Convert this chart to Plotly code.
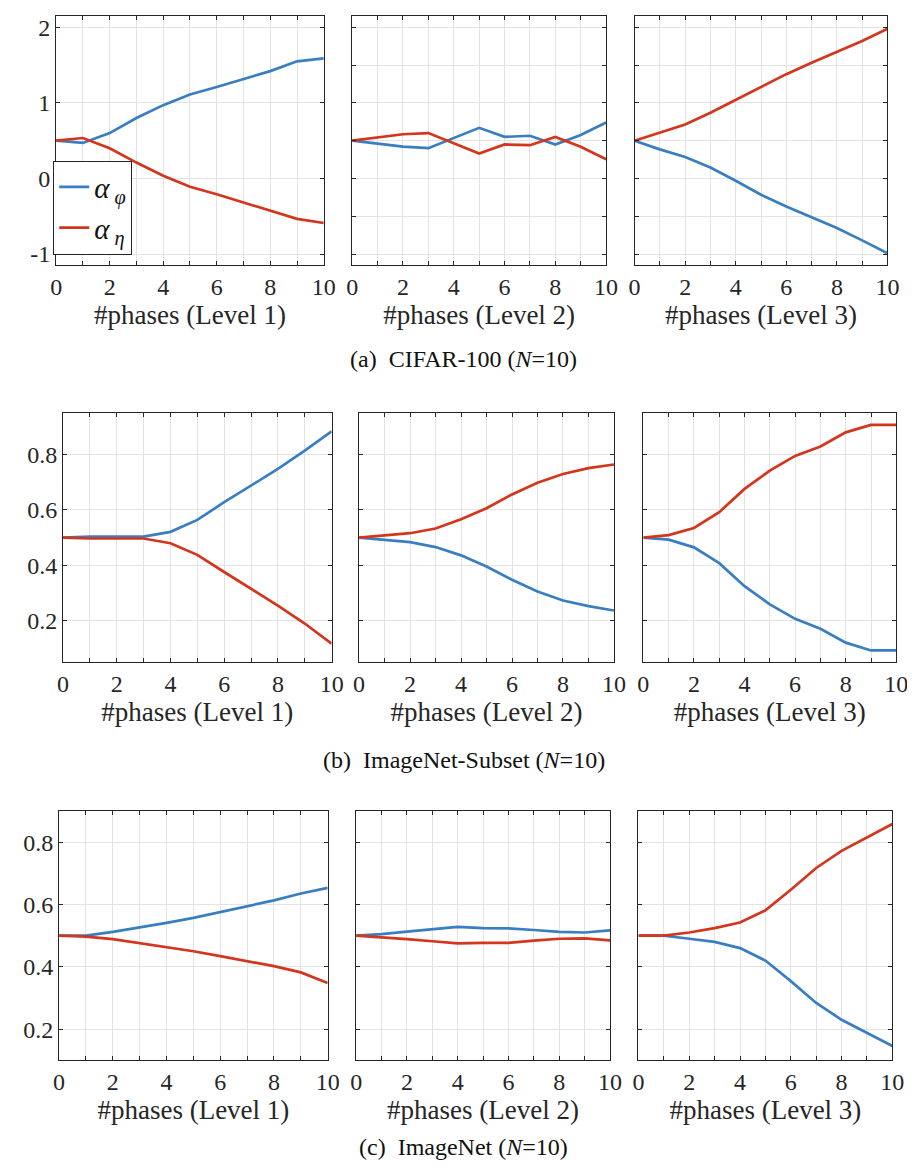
import plotly.graph_objects as go

phases = list(range(11))

# Row (a) CIFAR-100
a1_phi = [0.50, 0.47, 0.60, 0.80, 0.97, 1.11, 1.21, 1.32, 1.42, 1.55, 1.59]
a1_eta = [0.50, 0.535, 0.40, 0.21, 0.035, -0.11, -0.21, -0.32, -0.42, -0.535, -0.59]
a2_phi = [0.50, 0.455, 0.42, 0.40, 0.54, 0.67, 0.55, 0.565, 0.45, 0.575, 0.74]
a2_eta = [0.50, 0.545, 0.585, 0.60, 0.46, 0.33, 0.45, 0.44, 0.55, 0.42, 0.255]
a3_phi = [0.50, 0.385, 0.285, 0.145, -0.03, -0.215, -0.37, -0.51, -0.655, -0.82, -0.99]
a3_eta = [0.50, 0.605, 0.715, 0.87, 1.04, 1.22, 1.38, 1.53, 1.67, 1.82, 1.98]

# Row (b) ImageNet-Subset
b1_phi = [0.50, 0.504, 0.504, 0.504, 0.521, 0.564, 0.628, 0.688, 0.748, 0.814, 0.884]
b1_eta = [0.50, 0.497, 0.497, 0.497, 0.48, 0.438, 0.376, 0.315, 0.255, 0.19, 0.117]
b2_phi = [0.50, 0.493, 0.484, 0.466, 0.436, 0.396, 0.348, 0.306, 0.273, 0.253, 0.237]
b2_eta = [0.50, 0.507, 0.516, 0.533, 0.566, 0.606, 0.656, 0.698, 0.73, 0.751, 0.764]
b3_phi = [0.50, 0.493, 0.465, 0.408, 0.325, 0.259, 0.207, 0.171, 0.121, 0.093, 0.093]
b3_eta = [0.50, 0.509, 0.535, 0.592, 0.676, 0.742, 0.795, 0.829, 0.88, 0.907, 0.907]

# Row (c) ImageNet
c1_phi = [0.50, 0.50, 0.512, 0.526, 0.541, 0.557, 0.575, 0.593, 0.613, 0.635, 0.653]
c1_eta = [0.50, 0.497, 0.489, 0.476, 0.464, 0.45, 0.434, 0.419, 0.402, 0.382, 0.348]
c2_phi = [0.50, 0.505, 0.513, 0.52, 0.528, 0.524, 0.523, 0.518, 0.512, 0.51, 0.517]
c2_eta = [0.50, 0.495, 0.489, 0.482, 0.475, 0.477, 0.477, 0.484, 0.49, 0.491, 0.485]
c3_phi = [0.50, 0.50, 0.49, 0.48, 0.46, 0.42, 0.354, 0.284, 0.23, 0.188, 0.146]
c3_eta = [0.50, 0.50, 0.51, 0.524, 0.542, 0.581, 0.647, 0.717, 0.772, 0.815, 0.858]

x_titles = ["#phases (Level 1)", "#phases (Level 2)", "#phases (Level 3)"]
captions = ["(a)  CIFAR-100 (<i>N</i>=10)",
            "(b)  ImageNet-Subset (<i>N</i>=10)",
            "(c)  ImageNet (<i>N</i>=10)"]
x_tickvals = list(range(11))
x_ticktext = [str(v) if v % 2 == 0 else "" for v in x_tickvals]
a_ytickvals = [-1, 0, 1, 2]
a_yticktext = ["-1", "0", "1", "2"]
a_ytickvals_fine = [-1, -0.5, 0, 0.5, 1, 1.5, 2]
bc_ytickvals = [0.2, 0.4, 0.6, 0.8]

rows = [
    [(a1_phi, a1_eta), (a2_phi, a2_eta), (a3_phi, a3_eta)],
    [(b1_phi, b1_eta), (b2_phi, b2_eta), (b3_phi, b3_eta)],
    [(c1_phi, c1_eta), (c2_phi, c2_eta), (c3_phi, c3_eta)],
]

W, H = 915, 1176
row_px = [(7, 257), (405, 655), (804, 1054)]
col_px = [
    [(43, 316), (345, 604), (633, 891)],
    [(50, 324), (352, 612), (642, 900)],
    [(46, 320), (349, 608), (637, 896)],
]
y_ranges = [[-1.15, 2.15], [0.05, 0.95], [0.1, 0.9]]
caption_px = [351, 753, 1141]

BLUE = "#3A7EC2"
RED = "#D3361C"
AXC = "#262626"
TXT = "#262626"
GRID = "#E3E3E3"
FONT = "Liberation Serif"

fig = go.Figure()

idx = 0
for r in range(3):
    for c in range(3):
        idx += 1
        xa = "x" if idx == 1 else f"x{idx}"
        ya = "y" if idx == 1 else f"y{idx}"
        phi, eta = rows[r][c]
        show = (r == 0 and c == 0)
        fig.add_trace(go.Scatter(x=phases, y=phi, mode="lines",
                                 line=dict(color=BLUE, width=2.7),
                                 name="<i>α</i><sub> <i>φ</i></sub>", showlegend=show,
                                 xaxis=xa, yaxis=ya))
        fig.add_trace(go.Scatter(x=phases, y=eta, mode="lines",
                                 line=dict(color=RED, width=2.7),
                                 name="<i>α</i><sub> <i>η</i></sub>", showlegend=show,
                                 xaxis=xa, yaxis=ya))
        x0, x1 = col_px[r][c]
        y0, y1 = row_px[r]
        xkey = "xaxis" if idx == 1 else f"xaxis{idx}"
        ykey = "yaxis" if idx == 1 else f"yaxis{idx}"
        fig.layout[xkey] = dict(
            domain=[x0 / W, x1 / W], anchor=ya, range=[0, 10],
            tickvals=x_tickvals, ticktext=x_ticktext,
            ticks="inside", ticklen=4, tickcolor=AXC, tickwidth=1,
            showline=True, linecolor=AXC, linewidth=1, mirror="ticks",
            showgrid=True, gridcolor=GRID, gridwidth=1, zeroline=False,
            tickfont=dict(family=FONT, size=24, color=TXT),
            title=dict(text=x_titles[c], font=dict(family=FONT, size=27, color=TXT),
                       standoff=5),
        )
        if r == 0:
            if c == 0:
                yt = dict(tickvals=a_ytickvals, ticktext=a_yticktext)
            else:
                yt = dict(tickvals=a_ytickvals_fine)
        else:
            yt = dict(tickvals=bc_ytickvals)
        fig.layout[ykey] = dict(
            domain=[1 - y1 / H, 1 - y0 / H], anchor=xa, range=y_ranges[r],
            ticks="inside", ticklen=4, tickcolor=AXC, tickwidth=1,
            showline=True, linecolor=AXC, linewidth=1, mirror="ticks",
            showgrid=True, gridcolor=GRID, gridwidth=1, zeroline=False,
            showticklabels=(c == 0),
            tickfont=dict(family=FONT, size=24, color=TXT),
            **yt,
        )

for r in range(3):
    fig.add_annotation(text=captions[r], xref="paper", yref="paper",
                       x=459 / W, y=1 - caption_px[r] / H, showarrow=False,
                       xanchor="center", yanchor="middle",
                       font=dict(family=FONT, size=24, color="#111"))

fig.update_layout(
    width=W, height=H,
    margin=dict(l=0, r=0, t=0, b=0),
    paper_bgcolor="white", plot_bgcolor="white",
    font=dict(family=FONT, color=TXT),
    showlegend=True,
    legend=dict(x=40 / W, y=1 - 152 / H, xanchor="left", yanchor="top",
                bgcolor="white", bordercolor=AXC, borderwidth=1,
                font=dict(family=FONT, size=29, color="#111"),
                tracegroupgap=4, itemwidth=30),
)

fig.write_html("out.html")
